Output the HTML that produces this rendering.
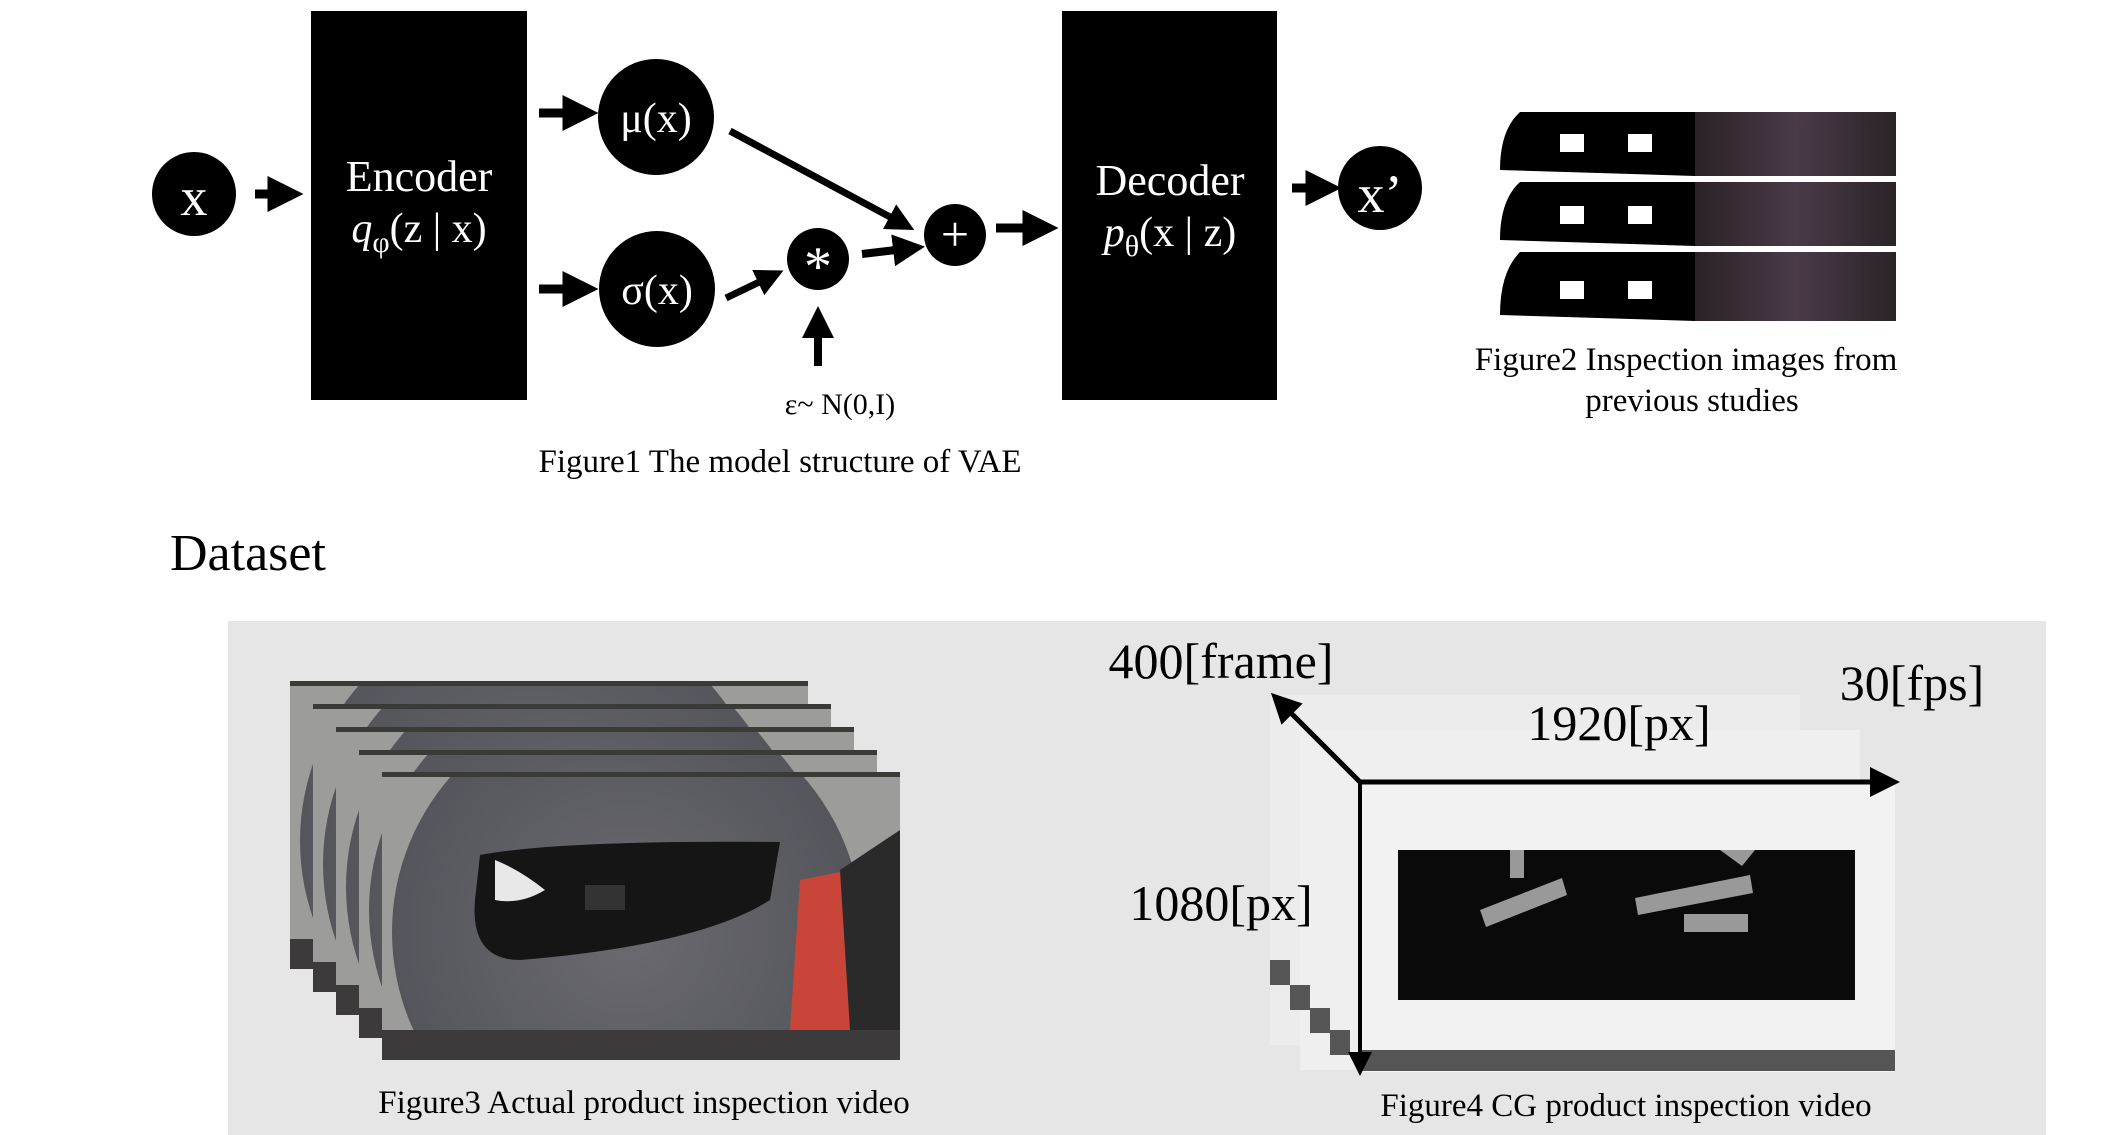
<!DOCTYPE html>
<html><head><meta charset="utf-8"><style>
html,body{margin:0;padding:0;background:#fff;}
svg{display:block;}
text{font-family:"Liberation Serif",serif;}
</style></head><body>
<svg width="2117" height="1135" viewBox="0 0 2117 1135" xmlns="http://www.w3.org/2000/svg">
<defs>
<marker id="ah" markerWidth="4" markerHeight="4" refX="2.5" refY="2" orient="auto" markerUnits="strokeWidth"><path d="M0,0 L4,2 L0,4 z" fill="#000"/></marker>
<marker id="ah2" markerWidth="6" markerHeight="6" refX="4" refY="3" orient="auto" markerUnits="strokeWidth"><path d="M0,0 L6,3 L0,6 z" fill="#000"/></marker>
<radialGradient id="disc" cx="0.5" cy="0.5" r="0.5"><stop offset="0" stop-color="#6a6a70"/><stop offset="1" stop-color="#55555c"/></radialGradient>
<linearGradient id="strip" x1="0" x2="1"><stop offset="0" stop-color="#2a2226"/><stop offset="0.5" stop-color="#4a3a48"/><stop offset="1" stop-color="#2a2428"/></linearGradient>
<clipPath id="fc"><rect x="0" y="0" width="518" height="288"/></clipPath>
<g id="scene">
<g clip-path="url(#fc)">
<rect x="0" y="0" width="518" height="288" fill="#9c9c9a"/>
<circle cx="245" cy="160" r="235" fill="url(#disc)"/>
<path d="M418,108 L518,88 L518,258 L408,258 z" fill="#c9453a"/>
<path d="M458,98 L518,58 L518,258 L468,258 z" fill="#2a2a2a"/>
<path d="M98,83 Q178,68 398,70 L388,128 Q318,173 138,188 Q88,188 93,128z" fill="#151515"/>
<path d="M113,88 Q138,98 163,118 Q138,133 113,128z" fill="#e8e8e8"/>
<rect x="203" y="113" width="40" height="25" fill="#333"/>
<rect x="0" y="258" width="518" height="30" fill="#3c3a3a"/>
<rect x="0" y="0" width="518" height="5" fill="#3a3a36"/>
</g>
</g>
</defs>

<!-- VAE diagram -->
<circle cx="194" cy="194" r="42" fill="#000"/>
<text x="194" y="215" font-size="54" fill="#fff" text-anchor="middle">x</text>
<line x1="255" y1="194" x2="290" y2="194" stroke="#000" stroke-width="9" marker-end="url(#ah)"/>

<rect x="311" y="11" width="216" height="389" fill="#000"/>
<text x="419" y="191" font-size="44" fill="#fff" text-anchor="middle">Encoder</text>
<text x="419" y="242" font-size="42" fill="#fff" text-anchor="middle"><tspan font-style="italic">q</tspan><tspan font-size="30" dy="10">φ</tspan><tspan dy="-10">(z | x)</tspan></text>

<line x1="539" y1="113" x2="585" y2="113" stroke="#000" stroke-width="9" marker-end="url(#ah)"/>
<line x1="539" y1="289" x2="585" y2="289" stroke="#000" stroke-width="9" marker-end="url(#ah)"/>
<circle cx="656" cy="117" r="58" fill="#000"/>
<text x="656" y="132" font-size="42" fill="#fff" text-anchor="middle">μ(x)</text>
<circle cx="657" cy="289" r="58" fill="#000"/>
<text x="657" y="304" font-size="42" fill="#fff" text-anchor="middle">σ(x)</text>

<circle cx="818" cy="259" r="31" fill="#000"/>
<text x="818" y="285" font-size="56" fill="#fff" text-anchor="middle">*</text>
<circle cx="955" cy="235" r="31" fill="#000"/>
<text x="955" y="251" font-size="50" fill="#fff" text-anchor="middle">+</text>

<line x1="730" y1="131" x2="905" y2="225" stroke="#000" stroke-width="7" marker-end="url(#ah)"/>
<line x1="726" y1="298" x2="774" y2="275" stroke="#000" stroke-width="7" marker-end="url(#ah)"/>
<line x1="862" y1="254" x2="913" y2="248" stroke="#000" stroke-width="8" marker-end="url(#ah)"/>
<line x1="818" y1="366" x2="818" y2="318" stroke="#000" stroke-width="8" marker-end="url(#ah)"/>
<text x="840" y="414" font-size="30" text-anchor="middle">ε~ N(0,I)</text>

<line x1="996" y1="228" x2="1045" y2="228" stroke="#000" stroke-width="9" marker-end="url(#ah)"/>
<rect x="1062" y="11" width="215" height="389" fill="#000"/>
<text x="1170" y="195" font-size="44" fill="#fff" text-anchor="middle">Decoder</text>
<text x="1170" y="246" font-size="42" fill="#fff" text-anchor="middle"><tspan font-style="italic">p</tspan><tspan font-size="30" dy="10">θ</tspan><tspan dy="-10">(x | z)</tspan></text>
<line x1="1292" y1="188" x2="1328" y2="188" stroke="#000" stroke-width="9" marker-end="url(#ah)"/>
<circle cx="1380" cy="188" r="42" fill="#000"/>
<text x="1380" y="212" font-size="54" fill="#fff" text-anchor="middle">x’</text>

<text x="780" y="472" font-size="33" text-anchor="middle">Figure1 The model structure of VAE</text>

<!-- Figure2 -->
<g>
<rect x="1695" y="112" width="201" height="64" fill="url(#strip)"/>
<rect x="1695" y="182" width="201" height="64" fill="url(#strip)"/>
<rect x="1695" y="252" width="201" height="69" fill="url(#strip)"/>
<path d="M1520,112 L1695,112 L1695,176 L1500,170 Q1500,130 1520,112z" fill="#000"/>
<path d="M1520,182 L1695,182 L1695,246 L1500,240 Q1500,200 1520,182z" fill="#000"/>
<path d="M1520,252 L1695,252 L1695,321 L1500,315 Q1500,272 1520,252z" fill="#000"/>
<rect x="1560" y="134" width="24" height="18" fill="#fff"/><rect x="1628" y="134" width="24" height="18" fill="#fff"/>
<rect x="1560" y="206" width="24" height="18" fill="#fff"/><rect x="1628" y="206" width="24" height="18" fill="#fff"/>
<rect x="1560" y="281" width="24" height="18" fill="#fff"/><rect x="1628" y="281" width="24" height="18" fill="#fff"/>
</g>
<text x="1686" y="370" font-size="33" text-anchor="middle">Figure2 Inspection images from</text>
<text x="1692" y="411" font-size="33" text-anchor="middle">previous studies</text>

<text x="170" y="570" font-size="52">Dataset</text>

<rect x="228" y="621" width="1818" height="514" fill="#e6e6e6"/>

<!-- Figure3 stack -->
<use href="#scene" x="290" y="681"/>
<use href="#scene" x="313" y="704"/>
<use href="#scene" x="336" y="727"/>
<use href="#scene" x="359" y="750"/>
<use href="#scene" x="382" y="772"/>
<text x="644" y="1113" font-size="33" text-anchor="middle">Figure3 Actual product inspection video</text>

<!-- Figure4 -->
<g>
<rect x="1270" y="695" width="530" height="350" fill="#ececec"/>
<rect x="1300" y="730" width="560" height="340" fill="#efefef"/>
<rect x="1360" y="782" width="535" height="290" fill="#f2f2f2"/>
<rect x="1360" y="1050" width="535" height="21" fill="#555"/>
<rect x="1270" y="960" width="20" height="25" fill="#555"/>
<rect x="1290" y="985" width="20" height="25" fill="#555"/>
<rect x="1310" y="1008" width="20" height="25" fill="#555"/>
<rect x="1330" y="1030" width="20" height="25" fill="#555"/>
<rect x="1398" y="850" width="457" height="150" fill="#0a0a0a"/>
<rect x="1510" y="850" width="14" height="28" fill="#999"/>
<polygon points="1480,910 1562,878 1567,895 1486,927" fill="#999"/>
<polygon points="1635,898 1750,875 1753,893 1638,915" fill="#999"/>
<rect x="1684" y="914" width="64" height="18" fill="#999"/>
<polygon points="1720,850 1755,850 1742,866" fill="#999"/>
</g>
<line x1="1360" y1="782" x2="1890" y2="782" stroke="#000" stroke-width="5" marker-end="url(#ah2)"/>
<line x1="1360" y1="782" x2="1360" y2="1068" stroke="#000" stroke-width="4" marker-end="url(#ah2)"/>
<line x1="1360" y1="782" x2="1278" y2="700" stroke="#000" stroke-width="5" marker-end="url(#ah2)"/>
<text x="1221" y="678" font-size="50" text-anchor="middle">400[frame]</text>
<text x="1619" y="740" font-size="50" text-anchor="middle">1920[px]</text>
<text x="1912" y="700" font-size="50" text-anchor="middle">30[fps]</text>
<text x="1221" y="920" font-size="50" text-anchor="middle">1080[px]</text>
<text x="1626" y="1116" font-size="33" text-anchor="middle">Figure4 CG product inspection video</text>
</svg>
</body></html>
